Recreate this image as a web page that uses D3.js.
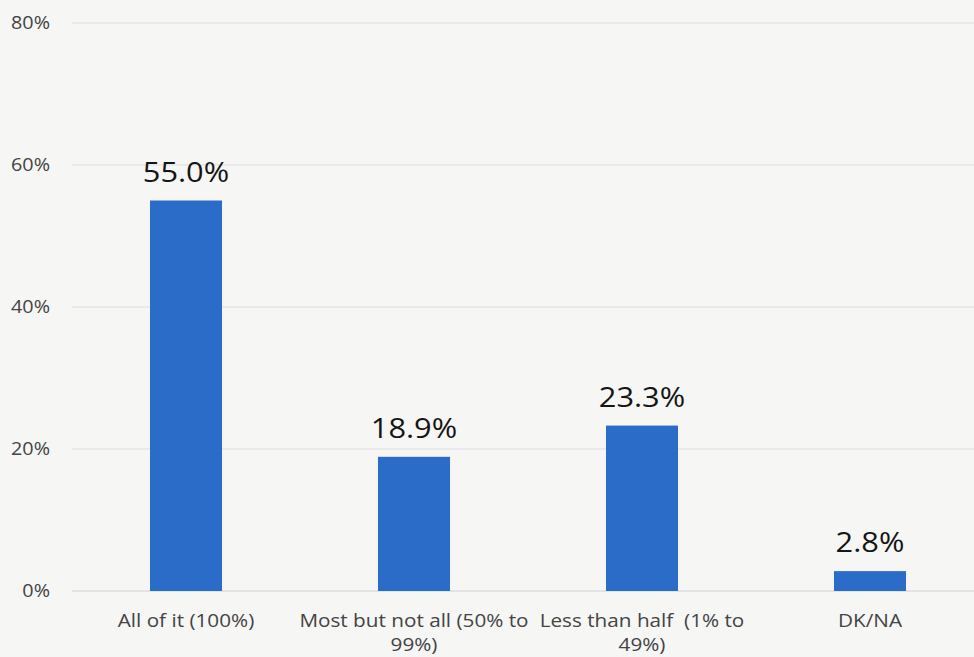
<!DOCTYPE html>
<html><head><meta charset="utf-8">
<script src="https://cdn.jsdelivr.net/npm/d3@7"></script>
<style>
html,body{margin:0;padding:0;background:#f6f6f4;}
svg{display:block;}
text{white-space:pre;}
</style></head>
<body>
<svg id="chart" width="974" height="657"></svg>
<script>
const categories = ["All of it (100%)", "Most but not all (50% to 99%)", "Less than half  (1% to 49%)", "DK/NA"];
const categoryLines = [["All of it (100%)"], ["Most but not all (50% to", "99%)"], ["Less than half  (1% to", "49%)"], ["DK/NA"]];
const values = [55.0, 18.9, 23.3, 2.8];
const yTicks = [0, 20, 40, 60, 80];

const svg = d3.select("#chart");
const W = 974, H = 657;
const margin = {left: 72, right: -10, top: 23, bottom: 66};
const x = d3.scaleBand().domain(categories).range([margin.left, W - margin.right]).paddingInner(0.684).paddingOuter(0.342);
const y = d3.scaleLinear().domain([0, 80]).range([H - margin.bottom, margin.top]);
const FONT = "'Open Sans', sans-serif";

svg.append("rect").attr("width", W).attr("height", H).attr("fill", "#f6f6f4");

// gridlines
svg.append("g").selectAll("line").data(yTicks).join("line")
  .attr("x1", margin.left).attr("x2", W)
  .attr("y1", d => y(d)).attr("y2", d => y(d))
  .attr("stroke", d => d === 0 ? "#cfcfd4" : "#dcdde3").attr("stroke-width", 1);

// y axis labels
const yAxis = d3.axisLeft(y).tickValues(yTicks).tickFormat(d => d + "%").tickSize(0).tickPadding(0);
const ga = svg.append("g").attr("transform", `translate(50,0)`).call(yAxis);
ga.select(".domain").remove();
ga.selectAll("text").attr("font-family", FONT).attr("font-size", 18).attr("fill", "#444")
  .attr("transform", "scale(1.1,1)");

// bars
svg.append("g").selectAll("rect").data(values).join("rect")
  .attr("x", (d, i) => x(categories[i]))
  .attr("width", x.bandwidth())
  .attr("y", d => y(d))
  .attr("height", d => y(0) - y(d))
  .attr("fill", "#2b6cc9");

// value labels
svg.append("g").selectAll("text").data(values).join("text")
  .attr("transform", (d, i) => `translate(${x(categories[i]) + x.bandwidth() / 2},${y(d) - 19}) scale(1.12,1)`)
  .attr("text-anchor", "middle")
  .attr("font-family", FONT).attr("font-size", 27.5)
  .attr("fill", "#151515")
  .text(d => d.toFixed(1) + "%");

// category labels
const cl = svg.append("g").selectAll("text").data(categories).join("text")
  .attr("text-anchor", "middle")
  .attr("font-family", FONT).attr("font-size", 18.5)
  .attr("fill", "#444")
  .attr("transform", d => `translate(${x(d) + x.bandwidth() / 2},627) scale(1.12,1)`);
cl.each(function(d, i) {
  const t = d3.select(this);
  categoryLines[i].forEach((line, j) => {
    t.append("tspan").attr("x", 0).attr("dy", j === 0 ? 0 : 24).text(line);
  });
});
</script>
</body></html>
